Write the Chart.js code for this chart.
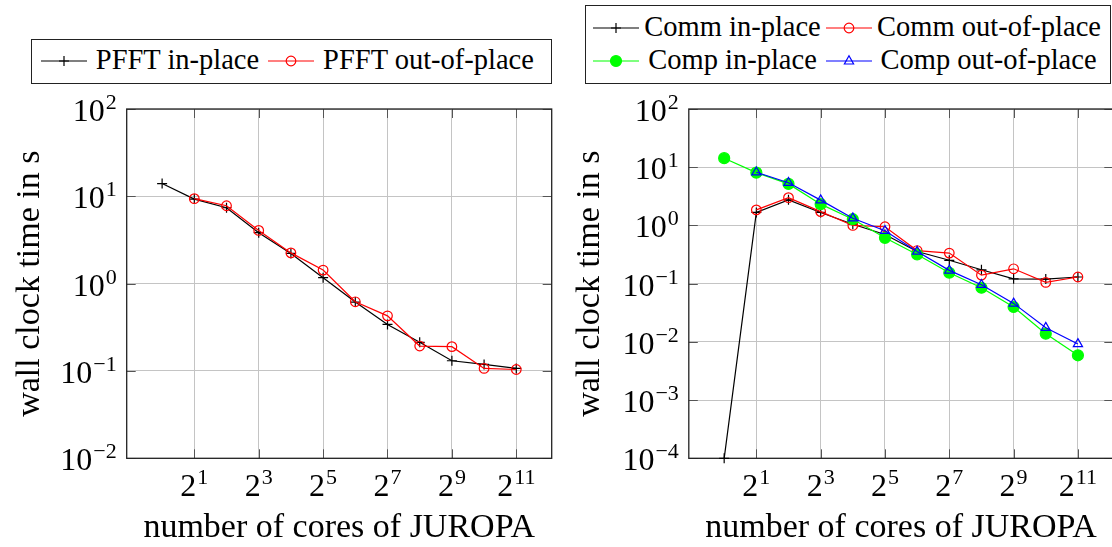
<!DOCTYPE html>
<html><head><meta charset="utf-8">
<script src="https://cdn.jsdelivr.net/npm/chart.js@4/dist/chart.umd.min.js"></script>
<style>
html,body{margin:0;padding:0;width:1112px;height:547px;overflow:hidden;background:#fff;font-family:"Liberation Serif",serif;}
.wrap{position:absolute;top:0;width:560px;height:547px}
.legend{position:absolute;border:1.3px solid #222;box-sizing:border-box;background:#fff}
.lt{position:absolute;font-size:28.5px;line-height:30px;height:30px;color:#000;text-align:center;white-space:nowrap}
.ls{position:absolute}
</style></head><body>
<div class="wrap" style="left:0"><canvas id="cL" width="560" height="547"></canvas></div>
<div class="wrap" style="left:560px"><canvas id="cR" width="560" height="547"></canvas></div>
<div id="legends"></div>
<script>
// ---- data ----
const coreCounts = [1, 2, 4, 8, 16, 32, 64, 128, 256, 512, 1024, 2048];
const pfftInPlace    = [14.0, 9.3, 7.4, 3.83, 2.22, 1.17, 0.615, 0.341, 0.213, 0.131, 0.119, 0.107];
const pfftOutOfPlace = [null, 9.4, 7.8, 4.07, 2.25, 1.43, 0.62, 0.428, 0.193, 0.19, 0.107, 0.104];
const commInPlace    = [0.0001, 1.67, 2.75, 1.67, 1.05, 0.70, 0.357, 0.252, 0.173, 0.121, 0.12, 0.13];
const commOutOfPlace = [null, 1.85, 3.0, 1.73, 1.0, 0.95, 0.37, 0.335, 0.14, 0.18, 0.105, 0.13];
const compInPlace    = [14.3, 8.07, 5.17, 2.32, 1.28, 0.612, 0.317, 0.154, 0.085, 0.0397, 0.0138, 0.00588];
const compOutOfPlace = [null, 8.2, 5.4, 2.72, 1.33, 0.81, 0.357, 0.169, 0.0957, 0.0458, 0.0175, 0.0092];
const xTickExponents = [1, 3, 5, 7, 9, 11];
const yTickExponentsLeft = [-2, -1, 0, 1, 2];
const yTickExponentsRight = [-4, -3, -2, -1, 0, 1, 2];
const xTitle = 'number of cores of JUROPA';
const yTitle = 'wall clock time in s';
const leftNames = ['PFFT in-place', 'PFFT out-of-place'];
const rightNames = ['Comm in-place', 'Comm out-of-place', 'Comp in-place', 'Comp out-of-place'];

// ---- helpers ----
const FONT = '"Liberation Serif", serif';
function series(values){
  return coreCounts.map((c,i)=> values[i]==null ? null : {x: Math.log2(c), y: values[i]}).filter(Boolean);
}
function expStr(e){ return String(e).replace('-', '\u2212'); }
function drawPow(ctx, x, y, base, exp, align){
  ctx.font = '32px ' + FONT;
  const wb = ctx.measureText(base).width;
  ctx.font = '22px ' + FONT;
  const we = ctx.measureText(exp).width;
  const total = wb + 1 + we;
  const x0 = align === 'right' ? x - total : x - total/2;
  ctx.textAlign = 'left'; ctx.textBaseline = 'alphabetic'; ctx.fillStyle = '#000';
  ctx.font = '32px ' + FONT; ctx.fillText(base, x0, y);
  ctx.font = '22px ' + FONT; ctx.fillText(exp, x0 + wb + 1, y - 12);
}
const framePlugin = {
  id: 'frame',
  beforeDatasetsDraw(chart){
    const {ctx, chartArea: a, scales: {x, y}} = chart;
    ctx.save();
    ctx.strokeStyle = '#555'; ctx.lineWidth = 1;
    const L = 9;
    ctx.beginPath();
    x.ticks.forEach(t => {
      const px = Math.round(x.getPixelForValue(t.value)) + 0.5;
      ctx.moveTo(px, a.bottom); ctx.lineTo(px, a.bottom - L);
      ctx.moveTo(px, a.top); ctx.lineTo(px, a.top + L);
    });
    y.ticks.forEach(t => {
      const py = Math.round(y.getPixelForValue(t.value)) + 0.5;
      ctx.moveTo(a.left, py); ctx.lineTo(a.left + L, py);
      ctx.moveTo(a.right, py); ctx.lineTo(a.right - L, py);
    });
    ctx.stroke();
    ctx.strokeStyle = '#222'; ctx.lineWidth = 1.3;
    ctx.strokeRect(a.left, a.top, a.right - a.left, a.bottom - a.top);
    ctx.restore();
  },
  afterDraw(chart){
    const {ctx, chartArea: a, scales: {x, y}} = chart;
    ctx.save();
    x.ticks.forEach(t => drawPow(ctx, x.getPixelForValue(t.value), a.bottom + 38, '2', expStr(t.value), 'center'));
    y.ticks.forEach(t => drawPow(ctx, a.left - 10, y.getPixelForValue(t.value) + 12, '10', expStr(Math.round(Math.log10(t.value))), 'right'));
    ctx.restore();
  }
};
function makeChart(id, datasets, yMinExp, yExps, yWidth, padRight){
  return new Chart(document.getElementById(id), {
    type: 'line',
    data: { datasets },
    plugins: [framePlugin],
    options: {
      responsive: false, animation: false, devicePixelRatio: 1,
      layout: { padding: { top: 109, right: padRight, left: 0, bottom: 0 } },
      plugins: { legend: { display: false }, tooltip: { enabled: false } },
      elements: { line: { tension: 0, borderWidth: 1.2 }, point: { borderWidth: 1.2 } },
      scales: {
        x: {
          type: 'linear', min: -1.1, max: 12.1,
          afterBuildTicks: s => { s.ticks = xTickExponents.map(v => ({value: v})); },
          afterFit: s => { s.height = 88.7; },
          ticks: { display: false },
          grid: { color: '#c4c4c4', lineWidth: 1, drawTicks: false },
          border: { display: false },
          title: { display: true, text: xTitle, color: '#000', font: { family: FONT, size: 34, lineHeight: 1.1 }, padding: 0 }
        },
        y: {
          type: 'logarithmic', min: Math.pow(10, yMinExp), max: 100,
          afterBuildTicks: s => { s.ticks = yExps.map(e => ({value: Math.pow(10, e)})); },
          afterFit: s => { s.width = yWidth; },
          ticks: { display: false },
          grid: { color: '#c4c4c4', lineWidth: 1, drawTicks: false },
          border: { display: false },
          title: { display: true, text: yTitle, color: '#000', font: { family: FONT, size: 34, lineHeight: 1.2 }, padding: { top: 10, bottom: 0 } }
        }
      }
    }
  });
}
const none = 'rgba(0,0,0,0)';
makeChart('cL', [
  { label: leftNames[0], data: series(pfftInPlace), borderColor: '#000', pointStyle: 'cross', pointRadius: 5, pointBorderColor: '#000', pointBackgroundColor: none, clip: false, order: 2 },
  { label: leftNames[1], data: series(pfftOutOfPlace), borderColor: '#f00', pointStyle: 'circle', pointRadius: 4.8, pointBorderColor: '#f00', pointBackgroundColor: none, clip: false, order: 1 }
], -2, yTickExponentsLeft, 126.7, 8.3);
makeChart('cR', [
  { label: rightNames[0], data: series(commInPlace), borderColor: '#000', pointStyle: 'cross', pointRadius: 5, pointBorderColor: '#000', pointBackgroundColor: none, clip: false, order: 4 },
  { label: rightNames[1], data: series(commOutOfPlace), borderColor: '#f00', pointStyle: 'circle', pointRadius: 4.8, pointBorderColor: '#f00', pointBackgroundColor: none, clip: false, order: 3 },
  { label: rightNames[2], data: series(compInPlace), borderColor: '#0f0', pointStyle: 'circle', pointRadius: 5.5, pointBorderColor: '#0f0', pointBackgroundColor: '#0f0', clip: false, order: 2 },
  { label: rightNames[3], data: series(compOutOfPlace), borderColor: '#00f', pointStyle: 'triangle', pointRadius: 5.3, pointBorderColor: '#00f', pointBackgroundColor: none, clip: false, order: 1 }
], -4, yTickExponentsRight, 128.8, 6.5);

// ---- legends (HTML) ----
function sampleSVG(color, mark){
  let m = '';
  if (mark === 'cross') m = `<path d="M23 16 h-5 M23 16 h5 M23 11 v10" stroke="${color}" stroke-width="1.2"/>`;
  if (mark === 'circle') m = `<circle cx="23" cy="16" r="4.8" fill="none" stroke="${color}" stroke-width="1.2"/>`;
  if (mark === 'dot') m = `<circle cx="23" cy="16" r="5.5" fill="${color}" stroke="${color}" stroke-width="1.2"/>`;
  if (mark === 'tri') m = `<path d="M23 10.7 L27.6 19 L18.4 19 Z" fill="none" stroke="${color}" stroke-width="1.2"/>`;
  return `<svg width="46" height="32" viewBox="0 0 46 32"><line x1="0" y1="16" x2="46" y2="16" stroke="${color}" stroke-width="1.2"/>${m}</svg>`;
}
function addLegend(box, items){
  const L = document.getElementById('legends');
  const b = document.createElement('div');
  b.className = 'legend';
  Object.assign(b.style, {left: box[0]+'px', top: box[1]+'px', width: (box[2]-box[0])+'px', height: (box[3]-box[1])+'px'});
  L.appendChild(b);
  items.forEach(it => {
    const s = document.createElement('div');
    s.className = 'ls'; s.innerHTML = sampleSVG(it.color, it.mark);
    Object.assign(s.style, {left: it.sx+'px', top: (it.cy-16)+'px', width:'46px', height:'32px'});
    L.appendChild(s);
    const t = document.createElement('div');
    t.className = 'lt'; t.textContent = it.text;
    Object.assign(t.style, {left: it.tx0+'px', width: (it.tx1-it.tx0)+'px', top: (it.cy-16)+'px'});
    L.appendChild(t);
  });
}
addLegend([31, 39, 552, 84], [
  {text: leftNames[0], color:'#000', mark:'cross', sx:41, tx0:92, tx1:263, cy:61},
  {text: leftNames[1], color:'#f00', mark:'circle', sx:268, tx0:319, tx1:538, cy:61}
]);
addLegend([585, 5, 1111, 84], [
  {text: rightNames[0], color:'#000', mark:'cross', sx:593, tx0:644, tx1:821, cy:28},
  {text: rightNames[1], color:'#f00', mark:'circle', sx:826, tx0:877, tx1:1100, cy:28},
  {text: rightNames[2], color:'#0f0', mark:'dot', sx:593, tx0:644, tx1:821, cy:61},
  {text: rightNames[3], color:'#00f', mark:'tri', sx:826, tx0:877, tx1:1100, cy:61}
]);
</script>
</body></html>
